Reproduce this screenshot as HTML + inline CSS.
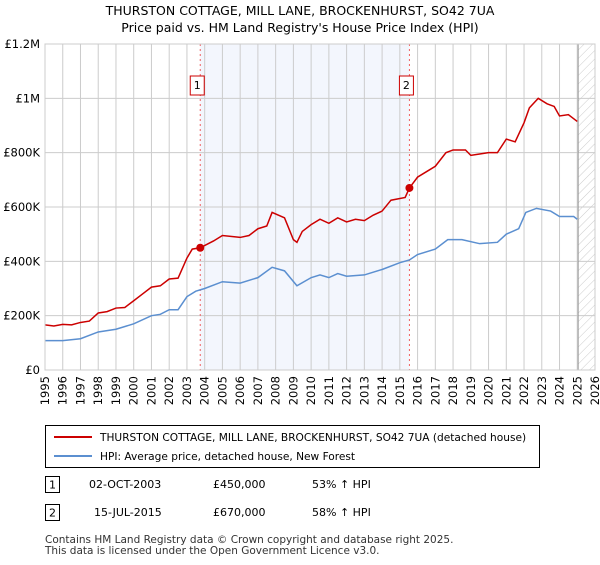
<!DOCTYPE html>
<html><head><meta charset="utf-8"><style>
body{margin:0;background:#fff;font-family:"Liberation Sans","DejaVu Sans",sans-serif;}
svg text{font-family:"DejaVu Sans","Liberation Sans",sans-serif;}
</style></head><body>
<svg id="c" width="600" height="560" xmlns="http://www.w3.org/2000/svg">
<defs><pattern id="hatch" width="6" height="6" patternUnits="userSpaceOnUse" patternTransform="rotate(45)"><line x1="0" y1="0" x2="0" y2="6" stroke="#ccc" stroke-width="1"/></pattern></defs>
<text x="300" y="15" text-anchor="middle" font-size="12.5" fill="#000">THURSTON COTTAGE, MILL LANE, BROCKENHURST, SO42 7UA</text>
<text x="300" y="32" text-anchor="middle" font-size="12.5" fill="#000">Price paid vs. HM Land Registry's House Price Index (HPI)</text>
<g id="plot"></g>
<g>
<rect x="45.5" y="425.5" width="494" height="42" fill="#fff" stroke="#000"/>
<line x1="54" y1="437" x2="92" y2="437" stroke="#cc0000" stroke-width="2"/>
<text x="100" y="441" font-size="10.6">THURSTON COTTAGE, MILL LANE, BROCKENHURST, SO42 7UA (detached house)</text>
<line x1="54" y1="456" x2="92" y2="456" stroke="#5b8fd0" stroke-width="2"/>
<text x="100" y="460" font-size="10.6">HPI: Average price, detached house, New Forest</text>
</g>
<g>
<rect x="45.5" y="476.5" width="14" height="16" fill="#fff" stroke="#000"/><text x="52.5" y="488.5" text-anchor="middle" font-size="11">1</text>
<text x="89" y="488" font-size="11">02-OCT-2003</text><text x="213" y="488" font-size="11">£450,000</text><text x="312" y="488" font-size="11">53% ↑ HPI</text>
<rect x="45.5" y="504.5" width="14" height="16" fill="#fff" stroke="#000"/><text x="52.5" y="516.5" text-anchor="middle" font-size="11">2</text>
<text x="94" y="516" font-size="11">15-JUL-2015</text><text x="213" y="516" font-size="11">£670,000</text><text x="312" y="516" font-size="11">58% ↑ HPI</text>
</g>
<text x="45" y="543" font-size="10.5" fill="#333">Contains HM Land Registry data © Crown copyright and database right 2025.</text>
<text x="45" y="554" font-size="10.5" fill="#333">This data is licensed under the Open Government Licence v3.0.</text>
</svg>
<script>
const yTicks=[0,200000,400000,600000,800000,1000000,1200000];
const yTickLabels=["£0","£200K","£400K","£600K","£800K","£1M","£1.2M"];
const xTicks=[1995,1996,1997,1998,1999,2000,2001,2002,2003,2004,2005,2006,2007,2008,2009,2010,2011,2012,2013,2014,2015,2016,2017,2018,2019,2020,2021,2022,2023,2024,2025,2026];
const saleDates=[2003.75,2015.54];
const saleValues=[450000,670000];
const saleLabels=["1","2"];
const redX=[1995,1995.5,1996,1996.5,1997,1997.5,1998,1998.5,1999,1999.5,2000,2000.5,2001,2001.5,2002,2002.5,2003,2003.3,2003.75,2004.5,2005,2006,2006.5,2007,2007.5,2007.8,2008.5,2009,2009.2,2009.5,2010,2010.5,2011,2011.5,2012,2012.5,2013,2013.5,2014,2014.5,2015.3,2015.54,2016,2016.5,2017,2017.6,2018,2018.7,2019,2019.5,2020,2020.5,2021,2021.5,2022,2022.3,2022.8,2023.3,2023.7,2024,2024.5,2025];
const redY=[166,162,168,166,175,180,210,215,228,230,255,280,305,310,335,338,412,445,450,475,495,488,495,520,530,580,560,480,470,510,535,555,540,560,545,555,550,570,585,625,635,670,710,730,750,800,810,810,790,795,800,800,850,840,910,965,1000,980,970,935,940,915];
const blueX=[1995,1996,1997,1998,1999,2000,2001,2001.5,2002,2002.5,2003,2003.5,2004,2005,2006,2007,2007.8,2008.5,2009.2,2010,2010.5,2011,2011.5,2012,2013,2014,2015,2015.54,2016,2017,2017.7,2018.5,2019.5,2020.5,2021,2021.7,2022.1,2022.7,2023.5,2024,2024.8,2025];
const blueY=[108,108,115,140,150,170,200,205,222,222,270,290,300,325,320,340,378,365,310,340,350,340,355,345,350,370,395,405,425,445,480,480,465,470,500,520,580,595,585,565,565,555];
const L=45,R=595,T=44,B=370;
const X=y=>L+(y-1995)*(R-L)/31;
const Y=v=>B-v*(B-T)/1200000;
const NS="http://www.w3.org/2000/svg";
const g=document.getElementById('plot');
function mk(t,a,txt){const e=document.createElementNS(NS,t);for(const k in a)e.setAttribute(k,a[k]);if(txt!==undefined)e.textContent=txt;g.appendChild(e);return e;}
let e;
e=mk('rect',{x:X(saleDates[0]),y:T,width:X(saleDates[1])-X(saleDates[0]),height:B-T,fill:'#eef2fc',opacity:0.7});


e=mk('rect',{x:X(2025.05),y:T,width:R-X(2025.05),height:B-T,fill:'url(#hatch)'});


xTicks.forEach(t=>{e=mk('line',{x1:X(t),x2:X(t),y1:T,y2:B,stroke:'#ccc'});


e=mk('text',{x:0,y:0,transform:`translate(${X(t)+4},${B+6}) rotate(-90)`,'text-anchor':'end','font-size':11.5},String(t));

});
yTicks.forEach((t,i)=>{e=mk('line',{x1:L,x2:R,y1:Y(t),y2:Y(t),stroke:'#ccc'});


e=mk('text',{x:L-5,y:Y(t)+4,'text-anchor':'end','font-size':11.5},yTickLabels[i]);

});
e=mk('line',{x1:X(2025.05),x2:X(2025.05),y1:T,y2:B,stroke:'#999','stroke-width':1});


saleDates.forEach((d,i)=>{e=mk('line',{x1:X(d),x2:X(d),y1:T,y2:B,stroke:'#f06060','stroke-dasharray':'2,3'});

});
e=mk('polyline',{points:blueX.map((x,i)=>X(x)+','+Y(blueY[i]*1000)).join(' '),fill:'none',stroke:'#5b8fd0','stroke-width':1.5});


e=mk('polyline',{points:redX.map((x,i)=>X(x)+','+Y(redY[i]*1000)).join(' '),fill:'none',stroke:'#cc0000','stroke-width':1.5});


saleDates.forEach((d,i)=>{e=mk('circle',{cx:X(d),cy:Y(saleValues[i]),r:4,fill:'#cc0000'});


e=mk('rect',{x:X(d)-10,y:76,width:14,height:19,fill:'#fff',stroke:'#cc0000'});


e=mk('text',{x:X(d)-3,y:89,'text-anchor':'middle','font-size':11},saleLabels[i]);

});
e=mk('rect',{x:L,y:T,width:R-L,height:B-T,fill:'none',stroke:'#ccc'});


</script>
</body></html>
